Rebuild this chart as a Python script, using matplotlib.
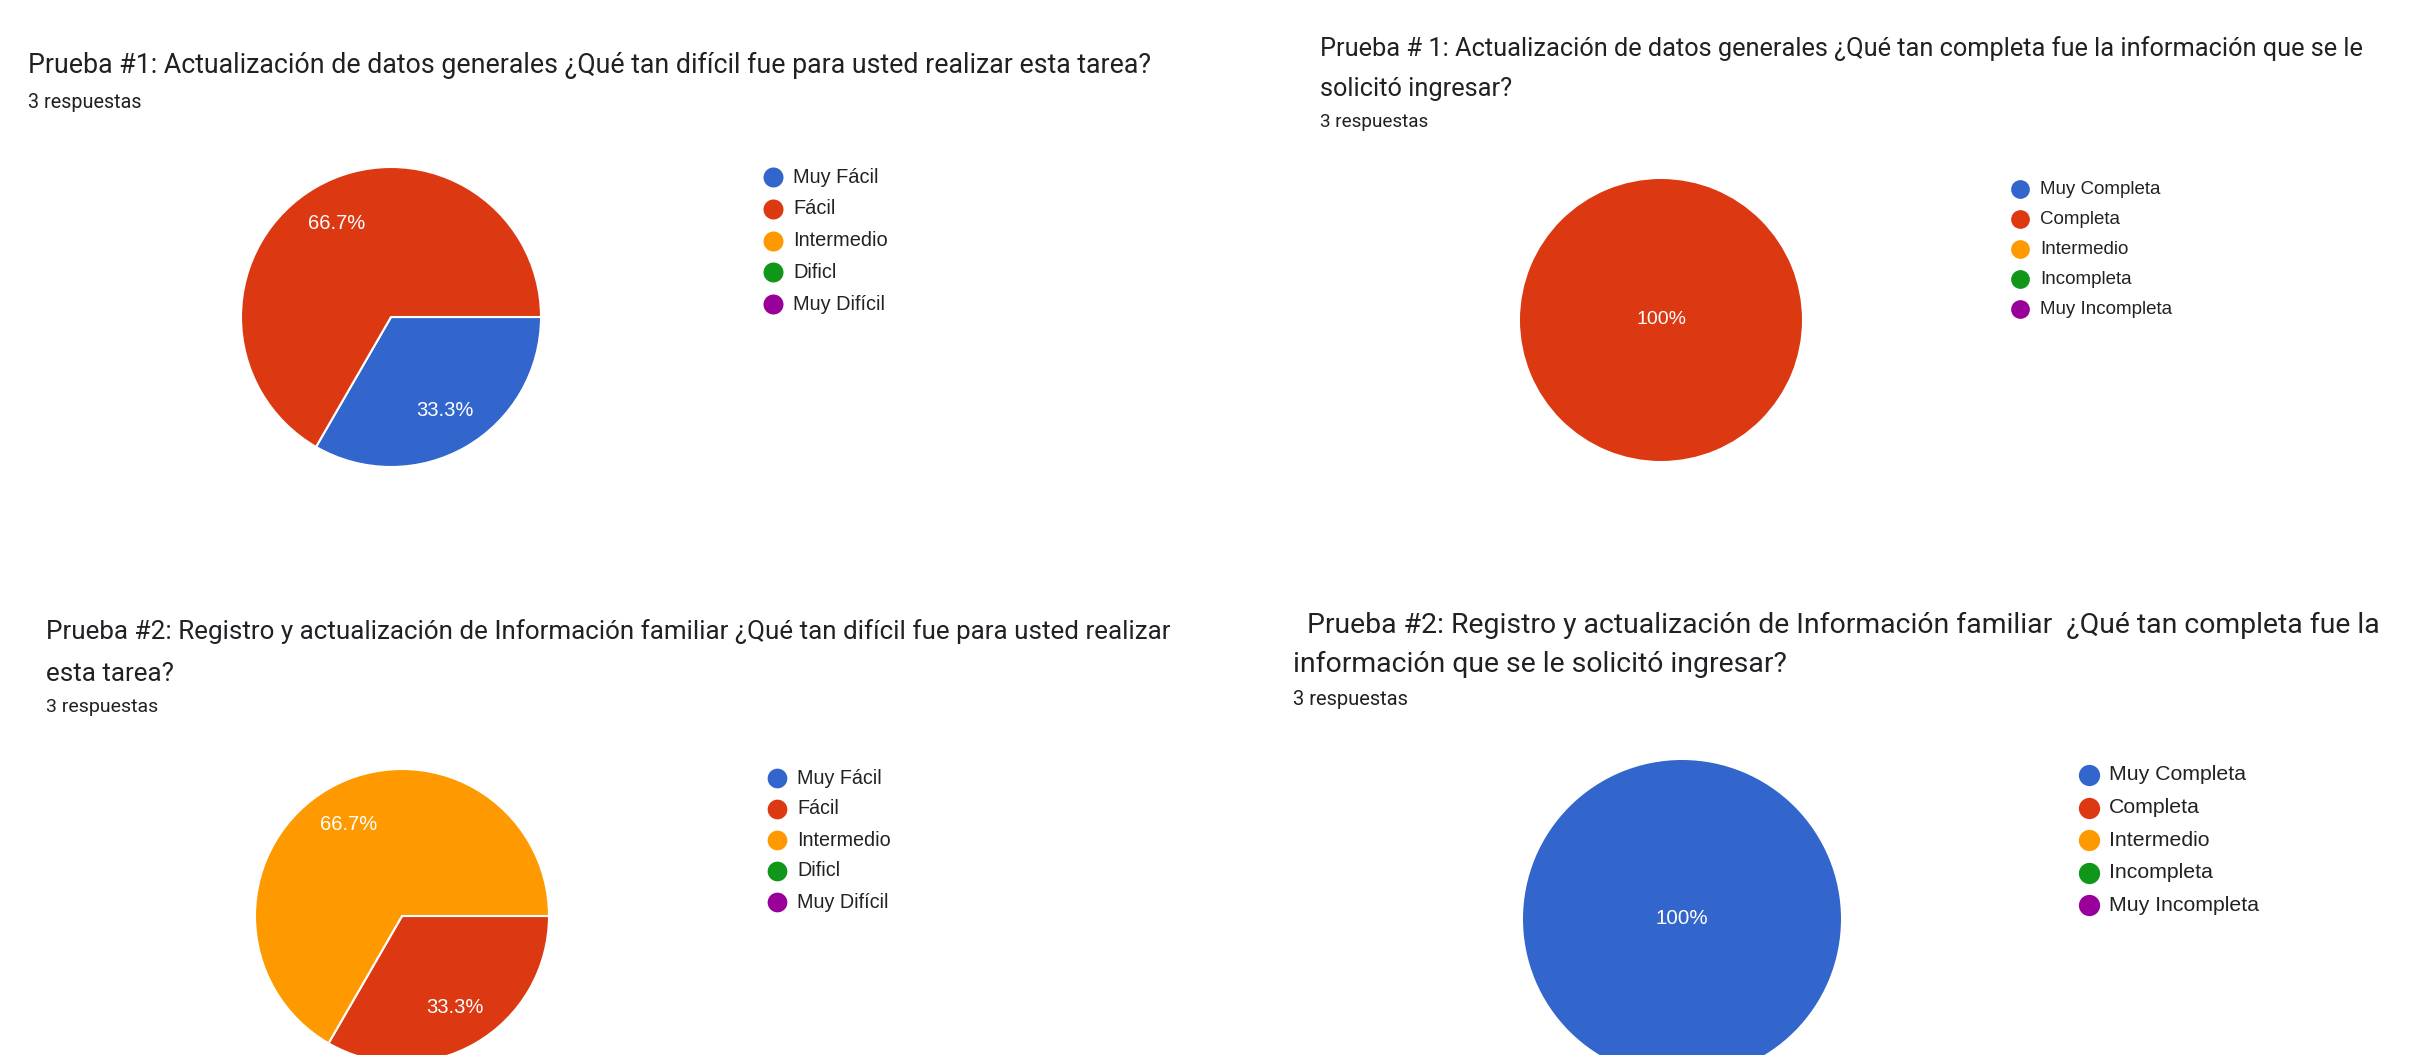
import matplotlib
matplotlib.use("Agg")
import matplotlib.pyplot as plt

plt.rcParams['font.family'] = ['Roboto', 'DejaVu Sans']
CHART_FONT = ['Liberation Sans', 'DejaVu Sans']   # Google charts look like Arial

# ---- data ----
COLORS = ["#3366CC", "#DC3912", "#FF9900", "#109618", "#990099"]

cats_dificultad = ["Muy Fácil", "Fácil", "Intermedio", "Dificl", "Muy Difícil"]
cats_completa = ["Muy Completa", "Completa", "Intermedio", "Incompleta", "Muy Incompleta"]

p1_counts = [1, 2, 0, 0, 0]
p2_counts = [0, 3, 0, 0, 0]
p3_counts = [0, 1, 2, 0, 0]
p4_counts = [3, 0, 0, 0, 0]

title1 = ["Prueba #1: Actualización de datos generales ¿Qué tan difícil fue para usted realizar esta tarea?"]
title2 = ["Prueba # 1: Actualización de datos generales ¿Qué tan completa fue la información que se le",
          "solicitó ingresar?"]
title3 = ["Prueba #2: Registro y actualización de Información familiar ¿Qué tan difícil fue para usted realizar",
          "esta tarea?"]
title4 = ["  Prueba #2: Registro y actualización de Información familiar  ¿Qué tan completa fue la",
          "información que se le solicitó ingresar?"]
subtitle = "3 respuestas"

W, H = 2425, 1055
fig = plt.figure(figsize=(W / 100, H / 100), dpi=100)
TXT = "#202124"


def fx(x):
    return x / W


def fy(y):
    return 1 - y / H


# layout per panel (pixel coords, text y = baseline)
panels = [
    dict(counts=p1_counts, cats=cats_dificultad, title=title1, tx=28, tys=[73], tfs=19.3,
         sub_y=108, sfs=14.2, cx=391, cy=317, r=150, pfs=14.5,
         lx=773, ly=177, lstep=31.8, lfs=14.4),
    dict(counts=p2_counts, cats=cats_completa, title=title2, tx=1320, tys=[56, 96], tfs=18.3,
         sub_y=127, sfs=13.6, cx=1661, cy=320, r=141, pfs=14.0,
         lx=2020, ly=189, lstep=30.0, lfs=13.5),
    dict(counts=p3_counts, cats=cats_dificultad, title=title3, tx=46, tys=[639, 681], tfs=18.7,
         sub_y=712, sfs=14.0, cx=402, cy=916, r=147, pfs=14.5,
         lx=777, ly=778, lstep=31.0, lfs=14.2),
    dict(counts=p4_counts, cats=cats_completa, title=title4, tx=1293, tys=[633, 672], tfs=20.4,
         sub_y=705, sfs=14.5, cx=1682, cy=919, r=159, pfs=14.8,
         lx=2089, ly=775, lstep=32.6, lfs=15.3),
]

for p in panels:
    for line, ty in zip(p["title"], p["tys"]):
        fig.text(fx(p["tx"]), fy(ty), line, fontsize=p["tfs"], color=TXT,
                 ha="left", va="baseline")
    fig.text(fx(p["tx"]), fy(p["sub_y"]), subtitle, fontsize=p["sfs"], color=TXT,
             ha="left", va="baseline")

    ax = fig.add_axes([fx(p["cx"] - p["r"]), fy(p["cy"] + p["r"]),
                       2 * p["r"] / W, 2 * p["r"] / H])
    vals = [v for v in p["counts"] if v > 0]
    cols = [c for v, c in zip(p["counts"], COLORS) if v > 0]
    single = len(vals) == 1
    wedges, _, autotexts = ax.pie(
        vals, colors=cols, startangle=0, counterclock=False,
        autopct=lambda pct: f"{pct:.1f}%" if pct < 99.9 else "100%",
        pctdistance=0.0 if single else 0.72,
        wedgeprops=dict(edgecolor="white", linewidth=1.5 if not single else 0),
        textprops=dict(color="white", fontsize=p["pfs"], family=CHART_FONT),
    )
    ax.set_aspect("equal")
    ax.set_xlim(-1, 1)
    ax.set_ylim(-1, 1)
    ax.axis("off")

    # legend: coloured dots + labels
    for i, (cat, col) in enumerate(zip(p["cats"], COLORS)):
        yy = p["ly"] + i * p["lstep"]
        fig.lines.append(plt.Line2D([fx(p["lx"])], [fy(yy)], marker="o", markersize=p["lfs"],
                                    color=col, markeredgewidth=0,
                                    transform=fig.transFigure, figure=fig))
        fig.text(fx(p["lx"] + 20), fy(yy), cat, fontsize=p["lfs"], color="#222222",
                 ha="left", va="center", family=CHART_FONT)

fig.savefig("out.png", dpi=100, facecolor="white")
